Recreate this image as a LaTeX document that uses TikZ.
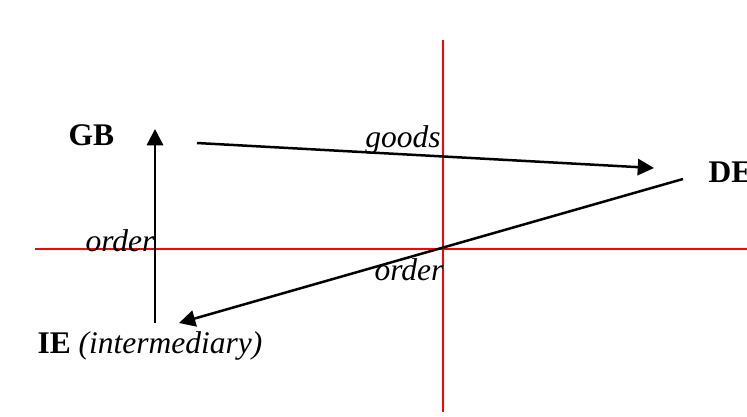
\documentclass[tikz,border=0pt]{standalone}
\usepackage{fontspec}
\setmainfont{Liberation Serif}
\usetikzlibrary{arrows.meta}
\begin{document}
\begin{tikzpicture}[x=0.4pt,y=-0.4pt,>={Triangle[length=6.5pt,width=6.5pt]},
  country/.style={font=\fontsize{12.6}{15}\selectfont\bfseries,inner sep=0pt,anchor=base west},
  flow/.style={font=\fontsize{12.6}{15}\selectfont\itshape,inner sep=0pt,anchor=base},
  axis/.style={red,line width=0.6pt},
  trade/.style={->,line width=1pt}]
\useasboundingbox (0,0) rectangle (747,416);
% red cross
\coordinate (top) at (443,40);
\coordinate (bottom) at (443,412);
\coordinate (left) at (35,249);
\coordinate (right) at (747,249);
\draw[axis](top)--(bottom);
\draw[axis](left)--(right);
% countries
\node[country](gb) at (68,145){GB};
\node[country](de) at (708,182){DE};
\node[country](ie) at (37,353){IE \textmd{\itshape(intermediary)}};
% arrow ends
\coordinate (gbout) at (197,143);
\coordinate (dein) at (654,168);
\coordinate (deout) at (683,179);
\coordinate (iein) at (179,323);
\coordinate (ieout) at (155,323);
\coordinate (gbin) at (155,129);
\draw[trade](gbout)--(dein);
\draw[trade](deout)--(iein);
\draw[trade](ieout)--(gbin);
% labels
\node[flow](goods) at (403,147){goods};
\node[flow](order1) at (409,280){order};
\node[flow](order2) at (120,251){order};
\end{tikzpicture}
\end{document}
